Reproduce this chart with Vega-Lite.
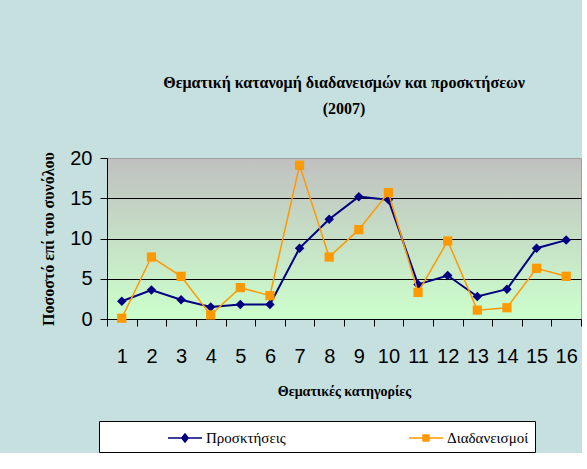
{
  "$schema": "https://vega.github.io/schema/vega-lite/v6.json",
  "width": 474,
  "height": 161,
  "autosize": {"type": "pad"},
  "padding": {"left": 40, "top": 75, "right": 0, "bottom": 0},
  "background": "#c6e0e0",
  "title": {
    "text": ["Θεματική κατανομή διαδανεισμών και προσκτήσεων", "(2007)"],
    "font": "'Times New Roman', 'Liberation Serif', 'DejaVu Serif', serif",
    "fontSize": 16,
    "fontWeight": "bold",
    "color": "black",
    "lineHeight": 26,
    "offset": 31,
    "anchor": "middle"
  },
  "config": {
    "view": {
      "fill": {
        "gradient": "linear",
        "x1": 0, "y1": 0, "x2": 0, "y2": 1,
        "stops": [
          {"offset": 0, "color": "#c0c0c0"},
          {"offset": 1, "color": "#ccffcc"}
        ]
      },
      "stroke": "#a0a0a0",
      "strokeWidth": 1
    }
  },
  "data": {
    "values": [
      {"cat": 1, "series": "Προσκτήσεις", "value": 2.2},
      {"cat": 2, "series": "Προσκτήσεις", "value": 3.6},
      {"cat": 3, "series": "Προσκτήσεις", "value": 2.4},
      {"cat": 4, "series": "Προσκτήσεις", "value": 1.5},
      {"cat": 5, "series": "Προσκτήσεις", "value": 1.8},
      {"cat": 6, "series": "Προσκτήσεις", "value": 1.8},
      {"cat": 7, "series": "Προσκτήσεις", "value": 8.8},
      {"cat": 8, "series": "Προσκτήσεις", "value": 12.4},
      {"cat": 9, "series": "Προσκτήσεις", "value": 15.2},
      {"cat": 10, "series": "Προσκτήσεις", "value": 14.8},
      {"cat": 11, "series": "Προσκτήσεις", "value": 4.3},
      {"cat": 12, "series": "Προσκτήσεις", "value": 5.4},
      {"cat": 13, "series": "Προσκτήσεις", "value": 2.8},
      {"cat": 14, "series": "Προσκτήσεις", "value": 3.7},
      {"cat": 15, "series": "Προσκτήσεις", "value": 8.8},
      {"cat": 16, "series": "Προσκτήσεις", "value": 9.8},
      {"cat": 1, "series": "Διαδανεισμοί", "value": 0.1},
      {"cat": 2, "series": "Διαδανεισμοί", "value": 7.7},
      {"cat": 3, "series": "Διαδανεισμοί", "value": 5.3},
      {"cat": 4, "series": "Διαδανεισμοί", "value": 0.5},
      {"cat": 5, "series": "Διαδανεισμοί", "value": 3.9},
      {"cat": 6, "series": "Διαδανεισμοί", "value": 2.9},
      {"cat": 7, "series": "Διαδανεισμοί", "value": 19.1},
      {"cat": 8, "series": "Διαδανεισμοί", "value": 7.7},
      {"cat": 9, "series": "Διαδανεισμοί", "value": 11.1},
      {"cat": 10, "series": "Διαδανεισμοί", "value": 15.7},
      {"cat": 11, "series": "Διαδανεισμοί", "value": 3.3},
      {"cat": 12, "series": "Διαδανεισμοί", "value": 9.7},
      {"cat": 13, "series": "Διαδανεισμοί", "value": 1.1},
      {"cat": 14, "series": "Διαδανεισμοί", "value": 1.4},
      {"cat": 15, "series": "Διαδανεισμοί", "value": 6.3},
      {"cat": 16, "series": "Διαδανεισμοί", "value": 5.3}
    ]
  },
  "encoding": {
    "x": {
      "field": "cat",
      "type": "ordinal",
      "bandPosition": 0.5,
      "scale": {"type": "band", "paddingInner": 0, "paddingOuter": 0},
      "axis": {
        "title": "Θεματικές κατηγορίες",
        "titleFont": "'Times New Roman', 'Liberation Serif', 'DejaVu Serif', serif",
        "titleFontSize": 14,
        "titleFontWeight": "bold",
        "titleColor": "black",
        "titlePadding": 18,
        "labelFont": "Liberation Sans",
        "labelFontSize": 20,
        "labelColor": "black",
        "labelAngle": 0,
        "labelPadding": 20,
        "tickBand": "extent",
        "tickColor": "black",
        "tickSize": 7,
        "domainColor": "black",
        "grid": false
      }
    },
    "y": {
      "field": "value",
      "type": "quantitative",
      "scale": {"domain": [0, 20], "nice": false},
      "axis": {
        "values": [0, 5, 10, 15, 20],
        "title": "Ποσοστό επί του συνόλου",
        "titleFont": "'Times New Roman', 'Liberation Serif', 'DejaVu Serif', serif",
        "titleFontSize": 16,
        "titleFontWeight": "bold",
        "titleColor": "black",
        "titlePadding": 13,
        "labelFont": "Liberation Sans",
        "labelFontSize": 20,
        "labelColor": "black",
        "labelPadding": 8,
        "tickColor": "black",
        "tickSize": 7,
        "domainColor": "black",
        "grid": true,
        "gridColor": {"condition": {"test": "datum.value === 20", "value": "#a0a0a0"}, "value": "black"},
        "gridOpacity": 1
      }
    },
    "color": {
      "field": "series",
      "type": "nominal",
      "scale": {"domain": ["Προσκτήσεις", "Διαδανεισμοί"], "range": ["#000080", "#ff9900"]},
      "legend": {
        "orient": "none",
        "legendX": -8,
        "legendY": 263,
        "direction": "horizontal",
        "title": null,
        "fillColor": "white",
        "strokeColor": "black",
        "padding": 6,
        "symbolSize": 400,
        "symbolStrokeWidth": 1.5,
        "symbolOffset": 69,
        "labelOffset": 10,
        "labelFont": "'Times New Roman', 'Liberation Serif', 'DejaVu Serif', serif",
        "labelFontSize": 15,
        "labelColor": "black",
        "labelLimit": 600,
        "columnPadding": 60,
        "labelExpr": "datum.label === 'Διαδανεισμοί' ? datum.label + '                    ' : datum.label",
        "encode": {
          "symbols": {
            "update": {
              "shape": {"signal": "datum.value === 'Προσκτήσεις' ? 'M-1.7,0H1.7M0,-0.4L0.32,0L0,0.4L-0.32,0Z' : 'M-1.7,0H1.7M-0.3,-0.3H0.3V0.3H-0.3Z'"},
              "fill": {"signal": "datum.value === 'Προσκτήσεις' ? '#000080' : '#ff9900'"},
              "stroke": {"signal": "datum.value === 'Προσκτήσεις' ? '#000080' : '#ff9900'"},
              "strokeWidth": {"value": 1.5},
              "opacity": {"value": 1}
            }
          }
        }
      }
    }
  },
  "layer": [
    {
      "transform": [{"filter": "datum.series === 'Προσκτήσεις'"}],
      "mark": {"type": "line", "strokeWidth": 2, "point": {"shape": "diamond", "filled": true, "size": 90, "opacity": 1}}
    },
    {
      "transform": [{"filter": "datum.series === 'Διαδανεισμοί'"}],
      "mark": {"type": "line", "strokeWidth": 1.5, "point": {"shape": "square", "filled": true, "size": 85, "opacity": 1}}
    }
  ]
}
